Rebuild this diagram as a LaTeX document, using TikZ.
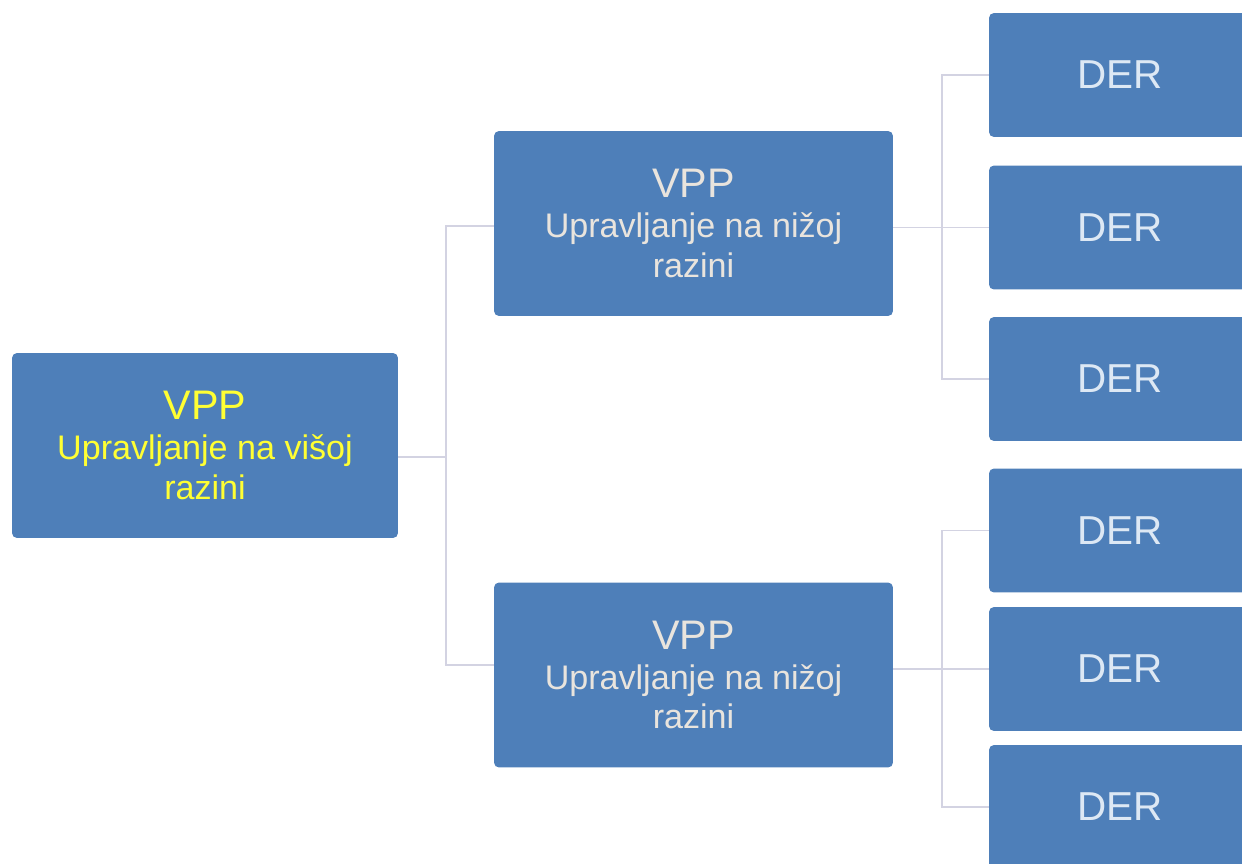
\documentclass[tikz,border=0pt]{standalone}
\usepackage{fontspec}
\setmainfont{Liberation Sans}

\definecolor{boxblue}{HTML}{4E7FB9}
\definecolor{vppyellow}{HTML}{FFFF33}
\definecolor{midtext}{HTML}{E9E4DD}
\definecolor{dertext}{HTML}{DDE8F4}
\definecolor{linegrey}{HTML}{D3D3E2}

\tikzset{
  box/.style={rectangle, rounded corners=2.8pt, fill=boxblue, align=center, inner sep=0pt,
    font=\fontsize{19.4}{22.7}\selectfont},
  vppbox/.style={box, minimum width=7.98cm, minimum height=3.7cm, text=midtext},
  derbox/.style={box, minimum width=5.24cm, minimum height=2.48cm, text=dertext,
    font=\fontsize{23}{26}\selectfont},
  link/.style={draw=linegrey, line width=0.6pt}
}
\newcommand{\vpptitle}{{\fontsize{23.5}{22.7}\selectfont VPP}}

\begin{document}
\begin{tikzpicture}[x=0.02cm,y=-0.02cm]%,>=latex]

\useasboundingbox (0,0) rectangle (1242,863);
\clip (0,0) rectangle (1242,863);

\node [vppbox, minimum width=7.72cm, text=vppyellow] (root) at (205,445.5) {\vpptitle\\Upravljanje na višoj\\razini};

\node [vppbox] (mid1) at (693.5,223.5) {\vpptitle\\Upravljanje na nižoj\\razini};
\node [vppbox] (mid2) at (693.5,675) {\vpptitle\\Upravljanje na nižoj\\razini};

\node [derbox] (der1) at (1120,75) {DER};
\node [derbox] (der2) at (1120,227.5) {DER};
\node [derbox] (der3) at (1120,379) {DER};
\node [derbox] (der4) at (1120,530.5) {DER};
\node [derbox] (der5) at (1120,669) {DER};
\node [derbox] (der6) at (1120,807) {DER};

\coordinate (r) at (446,457);
\coordinate (s1) at (446,226);
\coordinate (s2) at (446,665);
\coordinate (t1) at (942,227);
\coordinate (t2) at (942,668);

\draw [link] (root.east |- r) -- (r);
\draw [link] (mid1.west |- s1) -- (s1) -- (s2) -- (mid2.west |- s2);

\draw [link] (mid1.east |- der2.west) -- (der2.west);
\draw [link] (der1.west) -| (t1) |- (der3.west);

\draw [link] (mid2.east |- der5.west) -- (der5.west);
\draw [link] (der4.west) -| (t2) |- (der6.west);

\end{tikzpicture}
\end{document}
